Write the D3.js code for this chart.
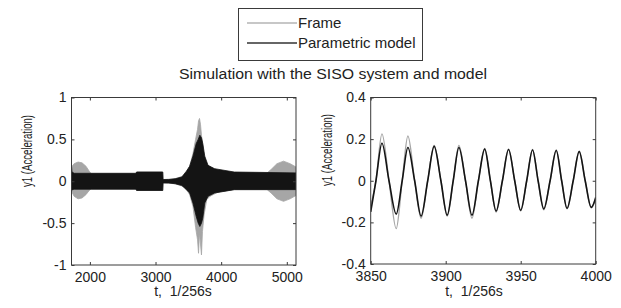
<!DOCTYPE html>
<html>
<head>
<meta charset="utf-8">
<script src="https://cdn.jsdelivr.net/npm/d3@7"></script>
<style>
  html, body { margin: 0; padding: 0; background: #fff; }
  svg { display: block; font-family: "Liberation Sans", Arial, sans-serif; }
</style>
</head>
<body>
<div id="chart"></div>
<script>
(function () {
  'use strict';

  /* legend / titles */
  var seriesNames = ['Frame', 'Parametric model'];
  var titleText = 'Simulation with the SISO system and model';
  var yLabelText = 'y1 (Acceleration)';
  var xLabelText = 't,  1/256s';

  /* left panel: envelope of the dense signal (upper / lower bound) */
  var frameT    = [1720, 1760, 1820, 1880, 1940, 1990, 2020, 2700, 2712, 3110, 3115, 3300, 3450, 3520, 3570, 3610, 3640, 3655, 3670, 3685, 3700, 3715, 3740, 3780, 3830, 3950, 4200, 4700, 4760, 4850, 4950, 5050, 5140];
  var frameHigh = [0.17, 0.21, 0.23, 0.22, 0.18, 0.12, 0.09, 0.09, 0.11, 0.11, 0.02, 0.03, 0.07, 0.18, 0.33, 0.5, 0.62, 0.72, 0.75, 0.68, 0.55, 0.45, 0.3, 0.2, 0.17, 0.13, 0.1, 0.1, 0.14, 0.21, 0.24, 0.21, 0.17];
  var frameLow  = [-0.12, -0.18, -0.21, -0.2, -0.16, -0.11, -0.09, -0.09, -0.11, -0.11, -0.02, -0.03, -0.07, -0.16, -0.3, -0.55, -0.7, -0.86, -0.62, -0.75, -0.88, -0.6, -0.4, -0.22, -0.18, -0.13, -0.1, -0.1, -0.14, -0.21, -0.24, -0.21, -0.17];

  var modelT    = [1720, 1728, 1760, 2700, 2712, 3110, 3115, 3200, 3300, 3400, 3470, 3520, 3570, 3620, 3650, 3675, 3700, 3720, 3750, 3800, 3900, 4200, 5140];
  var modelHigh = [0.18, 0.11, 0.095, 0.095, 0.11, 0.11, 0.02, 0.02, 0.03, 0.05, 0.12, 0.18, 0.3, 0.45, 0.5, 0.55, 0.52, 0.45, 0.3, 0.19, 0.15, 0.11, 0.1];
  var modelLow  = [-0.12, -0.1, -0.095, -0.095, -0.11, -0.11, -0.02, -0.02, -0.03, -0.05, -0.1, -0.14, -0.26, -0.42, -0.5, -0.54, -0.5, -0.44, -0.26, -0.18, -0.14, -0.1, -0.1];

  /* right panel: zoomed signal, extrema and zero crossings */
  var rightT = [3850, 3853.5, 3857.5, 3862.2, 3867, 3871, 3874.8, 3879.3, 3883.6, 3888, 3892.3, 3896.8, 3901, 3905, 3908.8, 3913.2, 3917.5, 3921.8, 3926, 3929.8, 3933.6, 3937.8, 3941.9, 3946, 3950, 3954, 3957.9, 3961.6, 3965.4, 3969.6, 3973.7, 3977.3, 3980.9, 3985, 3989, 3993, 3997, 4000];
  var rightFrame = [-0.12, 0, 0.225, 0, -0.23, 0, 0.215, 0, -0.18, 0, 0.17, 0, -0.17, 0, 0.17, 0, -0.18, 0, 0.155, 0, -0.15, 0, 0.152, 0, -0.145, 0, 0.15, 0, -0.14, 0, 0.148, 0, -0.135, 0, 0.142, 0, -0.13, -0.09];
  var rightModel = [-0.15, 0, 0.18, 0, -0.16, 0, 0.16, 0, -0.17, 0, 0.165, 0, -0.165, 0, 0.16, 0, -0.165, 0, 0.152, 0, -0.145, 0, 0.15, 0, -0.142, 0, 0.148, 0, -0.135, 0, 0.145, 0, -0.132, 0, 0.14, 0, -0.128, -0.08];

  /* axes ranges and ticks */
  var leftXDomain = [1720, 5140];
  var leftYDomain = [-1, 1];
  var leftXTicks = [2000, 3000, 4000, 5000];
  var leftYTicks = [-1, -0.5, 0, 0.5, 1];
  var rightXDomain = [3850, 4000];
  var rightYDomain = [-0.4, 0.4];
  var rightXTicks = [3850, 3900, 3950, 4000];
  var rightYTicks = [-0.4, -0.2, 0, 0.2, 0.4];

  const COLORS = {
    FRAME: '#a6a6a6',
    MODEL: '#141414',
    AXIS: '#3a3a3a',
    TEXT: '#222'
  };

  var width = 621;
  var height = 308;

  var svg = d3.select('#chart').append('svg')
    .attr('width', width)
    .attr('height', height);

  svg.append('rect')
    .attr('width', width)
    .attr('height', height)
    .attr('fill', '#fff');

  _buildLegend();

  svg.append('text')
    .attr('x', 333)
    .attr('y', 79)
    .attr('text-anchor', 'middle')
    .attr('font-size', 14)
    .attr('textLength', 308)
    .attr('lengthAdjust', 'spacingAndGlyphs')
    .attr('fill', COLORS.TEXT)
    .text(titleText);

  var left = _buildPanel({
    id: 'left', x0: 71.5, x1: 296, y0: 97.5, y1: 265,
    xDomain: leftXDomain, yDomain: leftYDomain,
    xTicks: leftXTicks, yTicks: leftYTicks,
    yLabelX: 32, yLabelY: 151, xLabelX: 183
  });

  var right = _buildPanel({
    id: 'right', x0: 370.7, x1: 595.7, y0: 97.5, y1: 264,
    xDomain: rightXDomain, yDomain: rightYDomain,
    xTicks: rightXTicks, yTicks: rightYTicks,
    yLabelX: 332, yLabelY: 150, xLabelX: 474
  });

  /* left: envelopes as filled bands */
  var frameBand = frameT.map(function (t, i) { return { t: t, hi: frameHigh[i], lo: frameLow[i] }; });
  var modelBand = modelT.map(function (t, i) { return { t: t, hi: modelHigh[i], lo: modelLow[i] }; });

  var band = d3.area()
    .x(function (d) { return left.x(d.t); })
    .y0(function (d) { return left.y(d.lo); })
    .y1(function (d) { return left.y(d.hi); });

  left.plot.append('path')
    .datum(frameBand)
    .attr('d', band)
    .attr('fill', COLORS.FRAME)
    .attr('stroke', COLORS.FRAME)
    .attr('stroke-width', 0.8);

  left.plot.append('path')
    .datum(modelBand)
    .attr('d', band)
    .attr('fill', COLORS.MODEL)
    .attr('stroke', COLORS.MODEL)
    .attr('stroke-width', 0.8);

  /* right: lines */
  var line = function (values) {
    return d3.line()
      .x(function (d, i) { return right.x(rightT[i]); })
      .y(function (d) { return right.y(d); })
      .curve(d3.curveMonotoneX)(values);
  };

  right.plot.append('path')
    .attr('d', line(rightFrame))
    .attr('fill', 'none')
    .attr('stroke', COLORS.FRAME)
    .attr('stroke-width', 1.4);

  right.plot.append('path')
    .attr('d', line(rightModel))
    .attr('fill', 'none')
    .attr('stroke', COLORS.MODEL)
    .attr('stroke-width', 1.6);

  function _buildLegend() {
    var g = svg.append('g');
    g.append('rect')
      .attr('x', 238.5)
      .attr('y', 8.5)
      .attr('width', 184)
      .attr('height', 52)
      .attr('fill', '#fff')
      .attr('stroke', COLORS.AXIS);

    var rows = [
      { name: seriesNames[0], color: '#b4b4b4', y: 23 },
      { name: seriesNames[1], color: '#333', y: 43 }
    ];
    rows.forEach(function (r) {
      g.append('line')
        .attr('x1', 247).attr('x2', 297)
        .attr('y1', r.y).attr('y2', r.y)
        .attr('stroke', r.color)
        .attr('stroke-width', 1.5);
      g.append('text')
        .attr('x', 298)
        .attr('y', r.y + 5)
        .attr('font-size', 15)
        .attr('fill', COLORS.TEXT)
        .text(r.name);
    });
  }

  function _buildPanel(o) {
    var x = d3.scaleLinear().domain(o.xDomain).range([o.x0, o.x1]);
    var y = d3.scaleLinear().domain(o.yDomain).range([o.y1, o.y0]);
    var fmt = function (d) { return String(d); };

    svg.append('clipPath')
      .attr('id', 'clip-' + o.id)
      .append('rect')
      .attr('x', o.x0).attr('y', o.y0)
      .attr('width', o.x1 - o.x0).attr('height', o.y1 - o.y0);

    var plot = svg.append('g').attr('clip-path', 'url(#clip-' + o.id + ')');

    // MATLAB style: inward ticks on all four sides
    var axes = [
      { axis: d3.axisBottom(x).tickValues(o.xTicks).tickFormat(fmt).tickPadding(7), tr: 'translate(0,' + o.y1 + ')' },
      { axis: d3.axisTop(x).tickValues(o.xTicks).tickFormat(''), tr: 'translate(0,' + o.y0 + ')' },
      { axis: d3.axisLeft(y).tickValues(o.yTicks).tickFormat(fmt).tickPadding(5), tr: 'translate(' + o.x0 + ',0)' },
      { axis: d3.axisRight(y).tickValues(o.yTicks).tickFormat(''), tr: 'translate(' + o.x1 + ',0)' }
    ];
    axes.forEach(function (a) {
      var g = svg.append('g')
        .attr('transform', a.tr)
        .call(a.axis.tickSize(-3));
      g.select('.domain').remove();
      g.selectAll('.tick line').attr('stroke', COLORS.AXIS);
      g.selectAll('.tick text')
        .attr('font-size', 14)
        .attr('font-family', '"Liberation Sans", Arial, sans-serif')
        .attr('fill', COLORS.TEXT);
      g.attr('font-family', null).attr('font-size', null);
    });

    svg.append('rect')
      .attr('x', o.x0).attr('y', o.y0)
      .attr('width', o.x1 - o.x0).attr('height', o.y1 - o.y0)
      .attr('fill', 'none')
      .attr('stroke', COLORS.AXIS);

    svg.append('text')
      .attr('transform', 'translate(' + o.yLabelX + ',' + o.yLabelY + ') rotate(-90)')
      .attr('text-anchor', 'middle')
      .attr('font-size', 14)
      .attr('textLength', 72)
      .attr('lengthAdjust', 'spacingAndGlyphs')
      .attr('fill', COLORS.TEXT)
      .text(yLabelText);

    svg.append('text')
      .attr('x', o.xLabelX)
      .attr('y', 296)
      .attr('text-anchor', 'middle')
      .attr('font-size', 14)
      .style('white-space', 'pre')
      .attr('fill', COLORS.TEXT)
      .text(xLabelText);

    return { x: x, y: y, plot: plot };
  }
}());
</script>
</body>
</html>
